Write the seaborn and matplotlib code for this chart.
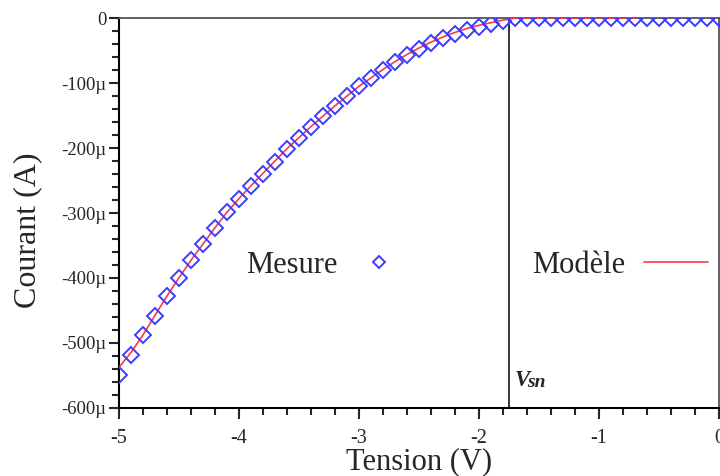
import numpy as np
import pandas as pd
import matplotlib
matplotlib.use("Agg")
import matplotlib.pyplot as plt
from matplotlib.ticker import MultipleLocator, FuncFormatter
from matplotlib.lines import Line2D
import seaborn as sns

# tension (V), pas de 0.1 V
tension = [round(-5 + 0.1 * i, 1) for i in range(51)]

# mesure (µA)
mesure = [-550, -519, -488, -458, -428, -400, -373, -348, -323, -299,
          -278, -259, -240, -221, -201, -184, -167, -150, -135, -120,
          -105, -92, -80, -68, -57, -47, -38, -31, -24, -18,
          -13, -9, -5, 0, 0, 0, 0, 0, 0, 0,
          0, 0, 0, 0, 0, 0, 0, 0, 0, 0, 0]

# modèle (µA), tracé jusqu'à -0.7 V
tension_mod = tension[:44]
modele = [-538, -515, -488, -458, -428, -400, -373, -348, -323, -299,
          -278, -258, -239, -220, -201, -184, -167, -151, -135, -120,
          -105, -92, -79, -67, -56, -46, -37, -29, -22, -16,
          -11, -7, -3, 0, 0, 0, 0, 0, 0, 0,
          0, 0, 0, 0]

vsn = -1.75

df_mes = pd.DataFrame({"V": tension, "I": np.array(mesure) * 1e-6})
df_mod = pd.DataFrame({"V": tension_mod, "I": np.array(modele) * 1e-6})

sns.set_style("ticks")
plt.rcParams['font.family'] = ['Liberation Serif', 'DejaVu Serif']

fig = plt.figure(figsize=(7.2, 4.76), dpi=100)
ax = fig.add_axes([0.165, 0.143, 0.834, 0.819])

blue = '#3c3cff'
red = '#ff3a3a'

sns.lineplot(data=df_mod, x="V", y="I", ax=ax, color=red, lw=1.2, zorder=3)
ax.plot(df_mes["V"], df_mes["I"], ls='none', marker='D', ms=8.5,
        mfc='none', mec=blue, mew=1.4, zorder=4)

ax.axvline(vsn, color='black', lw=1.1, zorder=2)

ax.set_xlim(-5, 0)
ax.set_ylim(-600e-6, 0)

ax.xaxis.set_major_locator(MultipleLocator(1))
ax.xaxis.set_minor_locator(MultipleLocator(0.2))
ax.yaxis.set_major_locator(MultipleLocator(100e-6))
ax.yaxis.set_minor_locator(MultipleLocator(20e-6))


def fmt_y(v, pos):
    n = int(round(v * 1e6))
    if n == 0:
        return "0"
    return f"-{abs(n)}\u00b5"


def fmt_x(v, pos):
    n = int(round(v))
    return "0" if n == 0 else f"-{abs(n)}"


ax.yaxis.set_major_formatter(FuncFormatter(fmt_y))
ax.xaxis.set_major_formatter(FuncFormatter(fmt_x))

ax.tick_params(axis='y', which='major', length=7, width=1.5, labelsize=13.5, pad=2)
ax.tick_params(axis='y', which='minor', length=5, width=1.5)
ax.tick_params(axis='x', which='major', length=8, width=1.5, labelsize=14.5, pad=7)
ax.tick_params(axis='x', which='minor', length=5, width=1.5)

for s in ['left', 'bottom']:
    ax.spines[s].set_linewidth(1.5)
    ax.spines[s].set_color('black')
ax.spines['top'].set_color('#555555')
ax.spines['top'].set_linewidth(1.3)
ax.spines['right'].set_color('#555555')
ax.spines['right'].set_linewidth(1.3)

ax.set_xlabel("Tension (V)", fontsize=22)
ax.set_ylabel("Courant (A)", fontsize=23)
ax.xaxis.set_label_coords(0.5, -0.1)
ax.yaxis.set_label_coords(-0.128, 0.455)

# V_sn
ax.text(-1.7, -566e-6, "V", fontsize=16.5, fontweight='bold', fontstyle='italic',
        ha='left', va='baseline')
ax.text(-1.6, -568e-6, "sn", fontsize=14, fontweight='bold', fontstyle='italic',
        ha='left', va='baseline')

# légendes
h_mes = Line2D([], [], ls='none', marker='D', ms=6.5, mfc='none', mec=blue, mew=1.4)
h_mod = Line2D([], [], color=red, lw=1.2)
leg1 = ax.legend([h_mes], ["Mesure"], loc='center', bbox_to_anchor=(0.342, 0.365),
                 frameon=False, markerfirst=False, fontsize=22, handlelength=1.5,
                 handletextpad=0.6)
ax.add_artist(leg1)
ax.legend([h_mod], ["Modèle"], loc='center', bbox_to_anchor=(0.835, 0.365),
          frameon=False, markerfirst=False, fontsize=22, handlelength=2.1,
          handletextpad=0.6)

fig.savefig("out.png", dpi=100)
